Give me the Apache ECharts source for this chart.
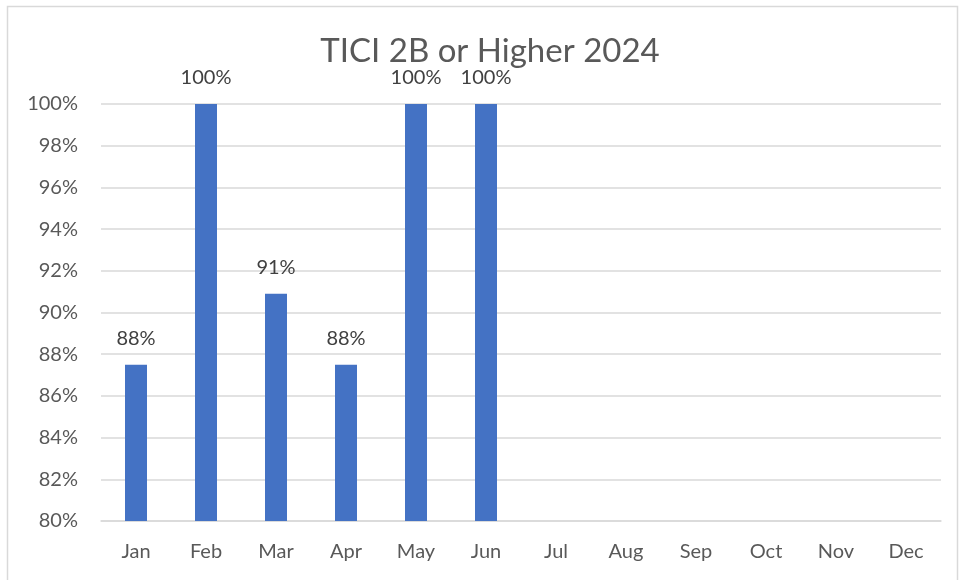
<!DOCTYPE html>
<html><head><meta charset="utf-8">
<script src="https://cdn.jsdelivr.net/npm/echarts@6/dist/echarts.min.js"></script>
<style>html,body{margin:0;padding:0;background:#fff}#c{width:959px;height:580px}</style>
</head><body><div id="c"></div>
<script>
const categories = ['Jan','Feb','Mar','Apr','May','Jun','Jul','Aug','Sep','Oct','Nov','Dec'];
const values = [87.5, 100, 90.9, 87.5, 100, 100, null, null, null, null, null, null];
const yTicks = {min: 80, max: 100, interval: 2};
const titleText = 'TICI 2B or Higher 2024';

const chart = echarts.init(document.getElementById('c'), null, {renderer: 'canvas'});
const font = 'Lato, "Open Sans", sans-serif';
chart.setOption({
  animation: false,
  backgroundColor: '#fff',
  graphic: [{
    type: 'rect', left: 5, top: 4, silent: true,
    shape: {x: 0, y: 0, width: 950, height: 590},
    style: {fill: 'none', stroke: '#d9d9d9', lineWidth: 1.5}
  }],
  title: {
    text: titleText, left: 485, top: 30, textAlign: 'center',
    textStyle: {fontFamily: font, fontSize: 33, fontWeight: 'normal', color: '#595959'}
  },
  grid: {left: 101, right: 18, top: 104, bottom: 59, containLabel: false},
  xAxis: {
    type: 'category', data: categories,
    axisLine: {show: true, lineStyle: {color: '#d9d9d9', width: 1.5}},
    axisTick: {show: false},
    axisLabel: {fontFamily: font, fontSize: 20, color: '#595959', margin: 21}
  },
  yAxis: {
    type: 'value', min: yTicks.min, max: yTicks.max, interval: yTicks.interval,
    axisLine: {show: false}, axisTick: {show: false},
    splitLine: {lineStyle: {color: '#d9d9d9', width: 1.5}},
    axisLabel: {fontFamily: font, fontSize: 20, color: '#595959', margin: 23, formatter: v => v + '%'}
  },
  series: [{
    type: 'bar', data: values, barWidth: 22,
    itemStyle: {color: '#4472c4'},
    label: {
      show: true, position: 'top', distance: 16,
      fontFamily: font, fontSize: 20, color: '#404040',
      formatter: p => p.value == null ? '' : Math.round(p.value) + '%'
    }
  }]
});
</script></body></html>
